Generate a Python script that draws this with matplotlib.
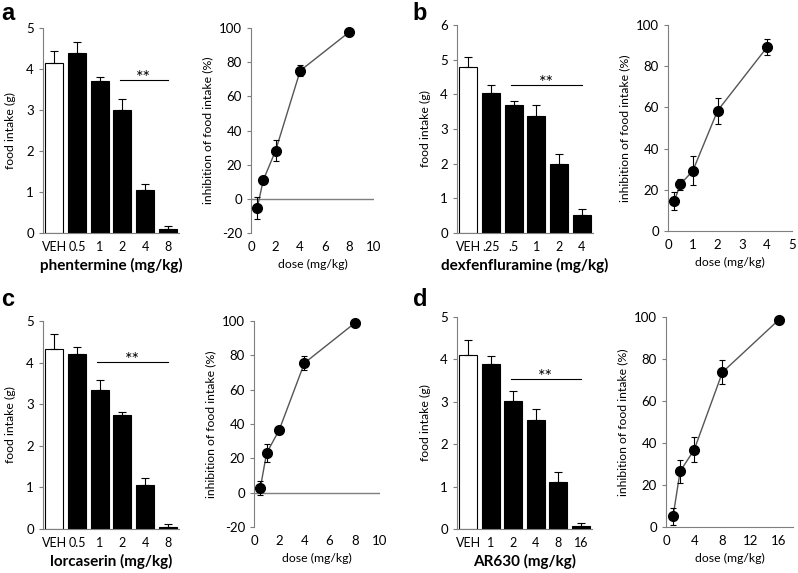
import numpy as np
import matplotlib.pyplot as plt

plt.rcParams['font.family'] = ['Lato', 'DejaVu Sans']
plt.rcParams['axes.unicode_minus'] = False

# bar data (food intake, g)
a_cats = ['VEH', '0.5', '1', '2', '4', '8']
a_food = [4.15, 4.40, 3.70, 3.00, 1.05, 0.10]
a_food_err = [0.30, 0.27, 0.10, 0.27, 0.15, 0.06]
b_cats = ['VEH', '.25', '.5', '1', '2', '4']
b_food = [4.78, 4.05, 3.69, 3.37, 1.99, 0.52]
b_food_err = [0.31, 0.22, 0.13, 0.32, 0.29, 0.18]
c_cats = ['VEH', '0.5', '1', '2', '4', '8']
c_food = [4.32, 4.21, 3.34, 2.74, 1.06, 0.06]
c_food_err = [0.37, 0.17, 0.24, 0.08, 0.16, 0.05]
d_cats = ['VEH', '1', '2', '4', '8', '16']
d_food = [4.10, 3.90, 3.01, 2.56, 1.10, 0.08]
d_food_err = [0.35, 0.19, 0.24, 0.28, 0.24, 0.06]

# inhibition data (%)
a_dose = [0.5, 1, 2, 4, 8]
a_inh = [-5.5, 11.0, 28.2, 75.0, 97.7]
a_inh_err = [6.5, 1.0, 6.3, 3.2, 1.0]
b_dose = [0.25, 0.5, 1, 2, 4]
b_inh = [14.5, 22.7, 29.2, 58.4, 89.3]
b_inh_err = [4.3, 2.7, 7.0, 6.4, 4.1]
c_dose = [0.5, 1, 2, 4, 8]
c_inh = [2.7, 23.0, 36.5, 75.5, 98.8]
c_inh_err = [4.0, 5.3, 1.5, 4.0, 1.0]
d_dose = [1, 2, 4, 8, 16]
d_inh = [5.1, 26.5, 36.8, 73.7, 98.7]
d_inh_err = [4.0, 5.5, 6.0, 5.7, 1.0]

W, H = 798, 573
fig = plt.figure(figsize=(W / 100, H / 100), dpi=100)
axcol = '#7f7f7f'


def box(x0, x1, ytop, ybot):
    return [x0 / W, 1 - ybot / H, (x1 - x0) / W, (ybot - ytop) / H]


def bar_panel(rect, cats, vals, errs, ymax, sig_from, sig_y, xlabel):
    ax = fig.add_axes(rect)
    x = np.arange(len(cats))
    colors = ['white'] + ['black'] * (len(cats) - 1)
    ax.bar(x, vals, width=0.8, color=colors, edgecolor='black', linewidth=0.8,
           yerr=[np.zeros(len(vals)), errs], error_kw=dict(ecolor='black', elinewidth=0.8, capsize=2.8, capthick=0.8))
    ax.set_xlim(-0.5, len(cats) - 0.5)
    ax.set_ylim(0, ymax)
    ax.set_yticks(range(ymax + 1))
    ax.set_xticks(x)
    ax.set_xticklabels(cats)
    ax.plot([sig_from - 0.1, len(cats) - 1], [sig_y, sig_y], color='black', lw=0.8)
    ax.text((sig_from - 0.1 + len(cats) - 1) / 2, sig_y - 0.03 * ymax, '**', ha='center', va='bottom', fontsize=13)
    ax.set_xlabel(xlabel, fontsize=11, fontweight='bold', labelpad=3)
    ax.set_ylabel('food intake (g)', fontsize=8.8, labelpad=7)
    for s in ['top', 'right']:
        ax.spines[s].set_visible(False)
    for s in ['left', 'bottom']:
        ax.spines[s].set_color(axcol)
    ax.tick_params(axis='x', length=0, labelsize=9, pad=6)
    ax.tick_params(axis='y', length=3, color=axcol, labelsize=9.5)
    return ax


def line_panel(rect, dose, inh, errs, xmax, xstep, ymin):
    ax = fig.add_axes(rect)
    ax.plot(dose, inh, color='#555555', lw=1, zorder=2)
    ax.errorbar(dose, inh, yerr=errs, fmt='none', ecolor='black', elinewidth=0.8, capsize=2, capthick=0.8, zorder=3)
    ax.plot(dose, inh, 'o', color='black', ms=7, zorder=4, clip_on=False)
    ax.set_xlim(0, xmax)
    ax.set_ylim(ymin, 100)
    ax.set_yticks(range(ymin, 101, 20))
    ax.set_xticks(np.arange(0, xmax + 0.01, xstep))
    for s in ['top', 'right']:
        ax.spines[s].set_visible(False)
    ax.spines['left'].set_color(axcol)
    if ymin < 0:
        ax.spines['bottom'].set_visible(False)
        ax.axhline(0, color=axcol, lw=1, zorder=1)
    else:
        ax.spines['bottom'].set_color(axcol)
    ax.set_xlabel('dose (mg/kg)', fontsize=8.8, labelpad=4)
    ax.set_ylabel('inhibition of food intake (%)', fontsize=8.8, labelpad=4)
    ax.tick_params(axis='x', length=0, labelsize=9.5, pad=6)
    ax.tick_params(axis='y', length=3, color=axcol, labelsize=9.5)
    return ax


bar_panel(box(43, 179, 28, 233), a_cats, a_food, a_food_err, 5, 3, 3.73, 'phentermine (mg/kg)')
line_panel(box(251, 374, 28, 233), a_dose, a_inh, a_inh_err, 10, 2, -20)
bar_panel(box(457, 593, 25, 233), b_cats, b_food, b_food_err, 6, 2, 4.27, 'dexfenfluramine (mg/kg)')
line_panel(box(668, 792, 25, 231), b_dose, b_inh, b_inh_err, 5, 1, 0)
bar_panel(box(43, 179, 321, 529), c_cats, c_food, c_food_err, 5, 2, 4.02, 'lorcaserin (mg/kg)')
line_panel(box(254, 380, 321, 527), c_dose, c_inh, c_inh_err, 10, 2, -20)
bar_panel(box(457, 592, 317, 529), d_cats, d_food, d_food_err, 5, 2, 3.54, 'AR630 (mg/kg)')
line_panel(box(666, 793, 317, 527), d_dose, d_inh, d_inh_err, 18, 4, 0)

for lab, px, py in [('a', 8, 14), ('b', 420, 14), ('c', 8, 299), ('d', 420, 299)]:
    fig.text(px / W, 1 - py / H, lab, fontsize=17, fontweight='bold', family='Liberation Sans', va='center', ha='center')

fig.savefig('out.png', dpi=100)
